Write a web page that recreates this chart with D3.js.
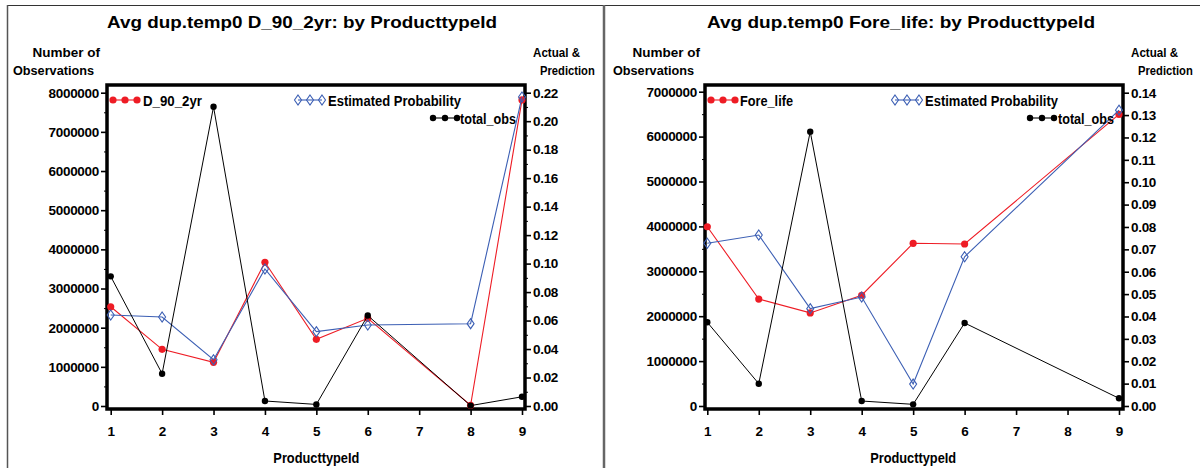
<!DOCTYPE html>
<html>
<head>
<meta charset="utf-8">
<script src="https://cdn.jsdelivr.net/npm/d3@7/dist/d3.min.js"></script>
<style>
  html, body { margin: 0; padding: 0; background: #fff; }
  svg { display: block; font-family: "Liberation Sans", Arial, Helvetica, sans-serif; }
  text { font-weight: bold; fill: #000; }
</style>
</head>
<body>
<svg id="chart" width="1200" height="468"></svg>
<script>
// Product type ids shown on the x axis
const productTypeTicks = [1, 2, 3, 4, 5, 6, 7, 8, 9];

// Panel 1: D_90_2yr
const d90Ids        = [1, 2, 3, 4, 5, 6, 8, 9];
const d90Actual     = [0.0697, 0.0398, 0.0307, 0.1009, 0.0468, 0.0616, 0.0005, 0.2149];
const d90Estimated  = [0.0639, 0.0625, 0.0325, 0.0962, 0.0522, 0.0569, 0.0578, 0.2170];
const d90TotalObs   = [3310000, 825000, 7640000, 128000, 40000, 2310000, 10000, 235000];
const d90ObsTicks   = [0, 1000000, 2000000, 3000000, 4000000, 5000000, 6000000, 7000000, 8000000];
const d90ProbTicks  = [0, 0.02, 0.04, 0.06, 0.08, 0.10, 0.12, 0.14, 0.16, 0.18, 0.20, 0.22];

// Panel 2: Fore_life
const foreIds       = [1, 2, 3, 4, 5, 6, 9];
const foreActual    = [0.0801, 0.0478, 0.0416, 0.0495, 0.0727, 0.0724, 0.1303];
const foreEstimated = [0.0727, 0.0764, 0.0435, 0.0487, 0.0098, 0.0667, 0.1322];
const foreTotalObs  = [1864000, 497000, 6110000, 111000, 37000, 1849000, 171000];
const foreObsTicks  = [0, 1000000, 2000000, 3000000, 4000000, 5000000, 6000000, 7000000];
const foreProbTicks = [0, 0.01, 0.02, 0.03, 0.04, 0.05, 0.06, 0.07, 0.08, 0.09, 0.10, 0.11, 0.12, 0.13, 0.14];

const RED = "#ee1c25", BLUE = "#3c5fb4", BLACK = "#000";

const svg = d3.select("#chart");

// outer page frame and panel divider
svg.append("line").attr("x1", 7).attr("x2", 1200).attr("y1", 5.5).attr("y2", 5.5)
  .attr("stroke", "#333").attr("stroke-width", 1.2);
svg.append("line").attr("x1", 7.5).attr("x2", 7.5).attr("y1", 5).attr("y2", 468)
  .attr("stroke", "#555").attr("stroke-width", 1.5);
svg.append("line").attr("x1", 604).attr("x2", 604).attr("y1", 5).attr("y2", 468)
  .attr("stroke", "#666").attr("stroke-width", 2.5);

function diamond(g, x, y, color) {
  g.append("path")
    .attr("d", `M${x},${y - 5}L${x + 3.5},${y}L${x},${y + 5}L${x - 3.5},${y}Z`)
    .attr("fill", "none").attr("stroke", color).attr("stroke-width", 1.1);
}

// caption squeezed horizontally by a transform, so its box stays within the page
function narrowText(g, x, y, size, sx, anchor, str) {
  g.append("text")
    .attr("transform", `translate(${x},${y}) scale(${sx},1)`)
    .attr("text-anchor", anchor)
    .style("font-size", size + "px")
    .text(str);
}

function panel(cfg) {
  const g = svg.append("g").attr("transform", `translate(${cfg.ox},0)`);
  const L = cfg.plot.left, R = cfg.plot.right, T = cfg.plot.top, B = cfg.plot.bottom;

  const x = d3.scaleLinear().domain([1, 9]).range([cfg.x1, cfg.x9]);
  const yObs = d3.scaleLinear().domain([0, cfg.obsMax]).range([406, cfg.obsTopPx]);
  const yProb = d3.scaleLinear().domain([0, cfg.probMax]).range([406, 92.7]);

  // title and axis captions
  g.append("text").attr("x", cfg.titleX).attr("y", 28).attr("text-anchor", "middle")
    .style("font-size", "17px").attr("textLength", cfg.titleLen).attr("lengthAdjust", "spacingAndGlyphs")
    .text(cfg.title);
  narrowText(g, 100, 57, 13.5, 1.0, "end", "Number of");
  narrowText(g, 94, 75, 13.5, 0.94, "end", "Observations");
  narrowText(g, R + 8, 57, 13.5, 0.86, "start", "Actual &");
  narrowText(g, R + 15, 75, 13.5, 0.83, "start", "Prediction");
  g.append("text").attr("x", (cfg.x1 + cfg.x9) / 2).attr("y", 463).attr("text-anchor", "middle")
    .style("font-size", "14px").attr("textLength", 86).attr("lengthAdjust", "spacingAndGlyphs").text("ProducttypeId");

  // left axis: number of observations
  const obsMinor = [];
  for (let i = 0; i < cfg.obsTicks.length - 1; i++) obsMinor.push((cfg.obsTicks[i] + cfg.obsTicks[i + 1]) / 2);
  g.append("g").attr("transform", `translate(${L},0)`)
    .call(d3.axisLeft(yObs).tickValues(obsMinor).tickSize(3).tickFormat(""))
    .call(a => a.select(".domain").remove())
    .call(a => a.selectAll("line").attr("stroke-width", 1));
  g.append("g").attr("transform", `translate(${L},0)`)
    .call(d3.axisLeft(yObs).tickValues(cfg.obsTicks).tickSize(6).tickPadding(2).tickFormat(d3.format("d")))
    .call(a => a.select(".domain").remove())
    .call(a => a.selectAll("line").attr("stroke-width", 1.6))
    .call(a => a.selectAll("text").style("font-size", "13.5px").style("font-family", "Liberation Sans, Arial, sans-serif")
      .attr("letter-spacing", "-0.3"));

  // right axis: actual & prediction
  if (cfg.probMinor) {
    const probMinor = [];
    for (let i = 0; i < cfg.probTicks.length - 1; i++) probMinor.push((cfg.probTicks[i] + cfg.probTicks[i + 1]) / 2);
    g.append("g").attr("transform", `translate(${R},0)`)
      .call(d3.axisRight(yProb).tickValues(probMinor).tickSize(3).tickFormat(""))
      .call(a => a.select(".domain").remove())
      .call(a => a.selectAll("line").attr("stroke-width", 1));
  }
  g.append("g").attr("transform", `translate(${R},0)`)
    .call(d3.axisRight(yProb).tickValues(cfg.probTicks).tickSize(6).tickPadding(2).tickFormat(d3.format(".2f")))
    .call(a => a.select(".domain").remove())
    .call(a => a.selectAll("line").attr("stroke-width", 1.6))
    .call(a => a.selectAll("text").style("font-size", "13.5px").style("font-family", "Liberation Sans, Arial, sans-serif")
      .attr("letter-spacing", "-0.3"));

  // bottom axis
  g.append("g").attr("transform", `translate(0,${B})`)
    .call(d3.axisBottom(x).tickValues(productTypeTicks).tickSize(6).tickPadding(11).tickFormat(d3.format("d")))
    .call(a => a.select(".domain").remove())
    .call(a => a.selectAll("line").attr("stroke-width", 1.6))
    .call(a => a.selectAll("text").style("font-size", "13.5px").style("font-family", "Liberation Sans, Arial, sans-serif"));

  // plot frame
  g.append("rect").attr("x", L).attr("y", T).attr("width", R - L).attr("height", B - T)
    .attr("fill", "none").attr("stroke", "#000").attr("stroke-width", 3.5);

  const line = (ids, vals, yScale) => d3.line().x((d, i) => x(ids[i])).y(d => yScale(d))(vals);

  // actual rate (red)
  g.append("path").attr("d", line(cfg.ids, cfg.actual, yProb)).attr("fill", "none").attr("stroke", RED).attr("stroke-width", 1.1);
  g.selectAll(null).data(cfg.actual).enter().append("circle")
    .attr("cx", (d, i) => x(cfg.ids[i])).attr("cy", d => yProb(d)).attr("r", 3.6).attr("fill", RED);

  // estimated probability (blue diamonds)
  g.append("path").attr("d", line(cfg.ids, cfg.estimated, yProb)).attr("fill", "none").attr("stroke", BLUE).attr("stroke-width", 1.1);
  cfg.estimated.forEach((d, i) => diamond(g, x(cfg.ids[i]), yProb(d), BLUE));

  // total observations (black)
  g.append("path").attr("d", line(cfg.ids, cfg.totalObs, yObs)).attr("fill", "none").attr("stroke", BLACK).attr("stroke-width", 1);
  g.selectAll(null).data(cfg.totalObs).enter().append("circle")
    .attr("cx", (d, i) => x(cfg.ids[i])).attr("cy", d => yObs(d)).attr("r", 3.2).attr("fill", BLACK);

  // legend
  const lg = cfg.legend;
  const sym3 = (x0, y0, color, kind) => {
    g.append("line").attr("x1", x0).attr("x2", x0 + 24).attr("y1", y0).attr("y2", y0).attr("stroke", color).attr("stroke-width", 1.1);
    [0, 12, 24].forEach(dx => {
      if (kind === "diamond") diamond(g, x0 + dx, y0, color);
      else g.append("circle").attr("cx", x0 + dx).attr("cy", y0).attr("r", kind === "big" ? 3.6 : 3.2).attr("fill", color);
    });
  };
  sym3(lg.red[0], 100, RED, "big");
  g.append("text").attr("x", lg.red[1]).attr("y", 105.5).style("font-size", "15px")
    .attr("textLength", lg.red[2]).attr("lengthAdjust", "spacingAndGlyphs").text(cfg.seriesName);
  sym3(lg.blue[0], 100, BLUE, "diamond");
  g.append("text").attr("x", lg.blue[1]).attr("y", 105.5).style("font-size", "15px")
    .attr("textLength", 133).attr("lengthAdjust", "spacingAndGlyphs").text("Estimated  Probability");
  sym3(lg.black[0], 118, BLACK, "small");
  g.append("text").attr("x", lg.black[1]).attr("y", 123.5).style("font-size", "15px")
    .attr("textLength", 56).attr("lengthAdjust", "spacingAndGlyphs").text("total_obs");
}

panel({
  ox: 0,
  title: "Avg dup.temp0 D_90_2yr: by ProducttypeId", titleX: 302, titleLen: 390,
  plot: { left: 107, right: 525, top: 85, bottom: 409 },
  x1: 110.7, x9: 522,
  obsMax: 8000000, obsTopPx: 92.7, probMax: 0.22, probMinor: true,
  obsTicks: d90ObsTicks, probTicks: d90ProbTicks,
  ids: d90Ids, actual: d90Actual, estimated: d90Estimated, totalObs: d90TotalObs,
  seriesName: "D_90_2yr",
  legend: { red: [113, 143, 59], blue: [298, 328], black: [433, 460] }
});

panel({
  ox: 600,
  title: "Avg dup.temp0 Fore_life: by ProducttypeId", titleX: 301, titleLen: 388,
  plot: { left: 105, right: 523, top: 85, bottom: 409 },
  x1: 107.3, x9: 519,
  obsMax: 7000000, obsTopPx: 91.7, probMax: 0.14, probMinor: false,
  obsTicks: foreObsTicks, probTicks: foreProbTicks,
  ids: foreIds, actual: foreActual, estimated: foreEstimated, totalObs: foreTotalObs,
  seriesName: "Fore_life",
  legend: { red: [111, 140, 53], blue: [295, 325], black: [430, 458] }
});
</script>
</body>
</html>
